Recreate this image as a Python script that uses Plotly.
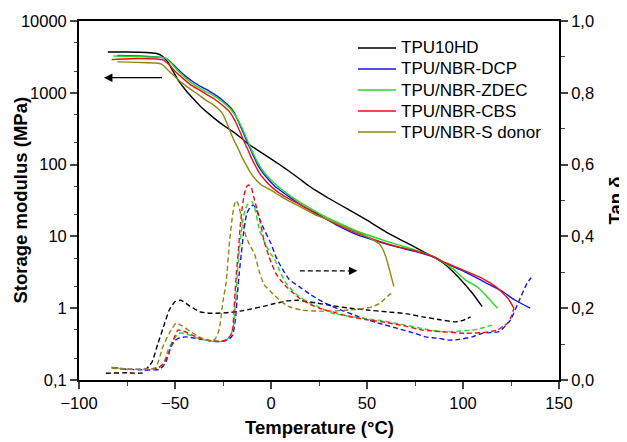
import plotly.graph_objects as go

names = ["TPU10HD", "TPU/NBR-DCP", "TPU/NBR-ZDEC", "TPU/NBR-CBS", "TPU/NBR-S donor"]
colors = ["#000000", "#1414f0", "#22dd22", "#ee1111", "#8a8a10"]

# storage modulus E' (MPa), solid lines, left log axis
t_e_hd = [-85, -75, -65, -60, -57, -54, -51, -48, -44, -40, -36, -32, -28, -24, -20, -16, -12, -8, -4, 0,
          5, 10, 15, 20, 25, 30, 40, 50, 60, 70, 80, 85, 90, 95, 100, 105, 110]
e_hd = [3700, 3700, 3650, 3550, 3300, 2750, 2000, 1450, 1050, 800, 620, 500, 410, 340, 290, 240, 195, 166, 141, 120,
        98, 79, 63, 50, 41, 34, 24, 16.8, 11.5, 8.3, 6.0, 5.1, 4.2, 3.2, 2.3, 1.6, 1.05]

t_e_dcp = [-80, -70, -60, -55, -52, -49, -45, -41, -36, -32, -28, -24, -21, -19, -17, -15, -13, -11, -9, -7,
           -5, -2, 2, 8, 15, 25, 35, 45, 55, 65, 75, 85, 90, 100, 110, 120, 127, 135]
e_dcp = [3300, 3250, 3150, 3050, 2650, 2200, 1750, 1450, 1200, 1050, 900, 740, 620, 520, 400, 300, 225, 170, 130, 100,
         82, 65, 50, 38, 28, 20, 14, 10.5, 8.6, 7.2, 6.2, 5.1, 4.3, 3.3, 2.4, 1.75, 1.3, 1.0]

t_e_zdec = [-82, -70, -60, -55, -52, -49, -45, -41, -36, -32, -28, -24, -21, -19, -17, -15, -13, -11, -9, -7,
            -5, -2, 2, 8, 15, 25, 35, 45, 55, 65, 75, 85, 90, 95, 101, 108, 113, 118]
e_zdec = [3250, 3200, 3150, 3050, 2600, 2100, 1650, 1350, 1120, 980, 850, 700, 590, 500, 410, 320, 240, 180, 138, 108,
          88, 70, 54, 40, 30, 21, 15.5, 11.8, 9.5, 7.8, 6.5, 5.2, 4.3, 3.5, 2.5, 1.93, 1.4, 1.0]

t_e_cbs = [-83, -70, -60, -56, -53, -50, -46, -42, -37, -33, -29, -25, -22, -20, -18, -16, -14, -12, -10, -8,
           -6, -3, 1, 7, 15, 25, 35, 45, 55, 65, 75, 85, 90, 100, 110, 117, 121, 124, 126.5]
e_cbs = [2900, 3000, 2950, 2850, 2450, 2000, 1600, 1300, 1080, 930, 800, 660, 560, 470, 370, 280, 210, 160, 120, 95,
         76, 60, 47, 36, 28, 19.5, 14.5, 11, 8.8, 7.3, 6.3, 5.2, 4.4, 3.4, 2.6, 2.0, 1.6, 1.3, 1.0]

t_e_sd = [-80, -70, -60, -57, -53, -48, -44, -38, -34, -30, -27, -25, -23, -21, -19, -17, -15, -13, -11, -8,
          -5, 0, 6, 15, 23, 30, 40, 48, 53, 56, 58, 60, 62, 64]
e_sd = [2700, 2650, 2600, 2500, 2000, 1500, 1230, 950, 790, 680, 580, 500, 380, 280, 210, 165, 125, 100, 80, 62,
        52, 44, 35, 26, 20, 17, 13, 10.5, 9, 8, 6.8, 5, 3.2, 2.0]

# tan delta, dashed lines, right axis
t_tan_hd = [-86, -75, -67, -62, -59, -56, -53, -50, -47, -42, -37, -32, -28, -22, -16, -10, -4, 2, 8, 14,
            23, 32, 41, 50, 60, 70, 79, 88, 96, 100, 104]
tan_hd = [0.019, 0.02, 0.02, 0.05, 0.1, 0.148, 0.195, 0.218, 0.222, 0.205, 0.19, 0.186, 0.186, 0.188, 0.192, 0.198,
          0.205, 0.213, 0.22, 0.222, 0.215, 0.207, 0.2, 0.195, 0.19, 0.185, 0.176, 0.168, 0.162, 0.166, 0.176]

t_tan_dcp = [-82, -75, -65, -58, -55, -52, -50, -47.5, -44, -40, -36, -32, -28, -25, -22, -20, -18.5, -17.5, -16.5,
             -15.5, -14.5, -13.5, -12.5, -11, -9.5, -8, -6, -3.5, 0, 2.6, 5.2, 9.5, 14.7, 20, 26.8, 35, 45.9, 55, 65,
             75, 80.5, 87.5, 92.7, 98, 104.8, 110, 118.7, 124.7, 129, 133.4, 135.5]
tan_dcp = [0.035, 0.03, 0.028, 0.03, 0.047, 0.093, 0.11, 0.118, 0.12, 0.117, 0.113, 0.11, 0.107, 0.108, 0.113, 0.125,
           0.17, 0.24, 0.3, 0.35, 0.4, 0.44, 0.465, 0.48, 0.487, 0.48, 0.45, 0.418, 0.38, 0.343, 0.316, 0.28, 0.26,
           0.24, 0.218, 0.198, 0.176, 0.16, 0.145, 0.13, 0.12, 0.116, 0.111, 0.113, 0.12, 0.13, 0.135, 0.167, 0.218,
           0.27, 0.285]

t_tan_zdec = [-83, -75, -65, -59, -56, -53.7, -51, -48, -45, -41, -37, -33, -29, -26, -23, -21, -19.5, -18.5, -17.5,
              -16.5, -15.5, -14.5, -13.5, -12, -10, -8.5, -6, -3, 0, 1.7, 4.3, 7.8, 11, 14.7, 20, 25, 32, 40, 50, 58,
              70, 80, 87.5, 95, 104.8, 110, 115]
tan_zdec = [0.033, 0.03, 0.03, 0.033, 0.045, 0.083, 0.11, 0.13, 0.13, 0.122, 0.115, 0.11, 0.107, 0.107, 0.112, 0.125,
            0.15, 0.22, 0.3, 0.36, 0.41, 0.45, 0.475, 0.49, 0.497, 0.48, 0.418, 0.38, 0.35, 0.339, 0.306, 0.27, 0.25,
            0.232, 0.215, 0.203, 0.186, 0.178, 0.17, 0.165, 0.153, 0.142, 0.135, 0.135, 0.139, 0.145, 0.153]

t_tan_cbs = [-83, -75, -65, -59, -56, -53, -51, -48.5, -45, -41, -37, -33, -29, -26, -23, -21, -20, -19, -18, -17,
             -16, -15, -14, -13, -12, -10.5, -9, -7, -6, -3.5, -1, 2.5, 5, 8, 11, 15, 20, 25, 32, 40, 50, 58, 70, 79,
             88, 101, 110, 118, 121, 124, 126.5]
tan_cbs = [0.035, 0.03, 0.03, 0.033, 0.045, 0.08, 0.11, 0.139, 0.135, 0.125, 0.116, 0.111, 0.108, 0.108, 0.113,
           0.125, 0.14, 0.22, 0.3, 0.36, 0.43, 0.48, 0.515, 0.535, 0.543, 0.54, 0.51, 0.47, 0.45, 0.385, 0.343, 0.297,
           0.278, 0.26, 0.245, 0.227, 0.212, 0.2, 0.19, 0.178, 0.168, 0.162, 0.15, 0.139, 0.135, 0.13, 0.132, 0.139,
           0.15, 0.162, 0.2]

t_tan_sd = [-83, -75, -65, -60, -56.3, -53, -49.5, -46, -42, -38, -34, -31, -29, -27, -25, -23.4, -21.7, -20, -19,
            -18, -16.5, -15, -13, -11, -8.7, -6, -3.5, 0.8, 5, 9.5, 16, 23.4, 32, 40.7, 47, 52.8, 57, 61.5, 64]
tan_sd = [0.035, 0.03, 0.03, 0.035, 0.093, 0.13, 0.158, 0.15, 0.135, 0.122, 0.112, 0.107, 0.115, 0.14, 0.22, 0.27,
          0.38, 0.46, 0.49, 0.50, 0.48, 0.44, 0.40, 0.375, 0.353, 0.30, 0.265, 0.241, 0.22, 0.204, 0.195, 0.192,
          0.192, 0.195, 0.198, 0.204, 0.215, 0.237, 0.245]

modulus = [(t_e_hd, e_hd), (t_e_dcp, e_dcp), (t_e_zdec, e_zdec), (t_e_cbs, e_cbs), (t_e_sd, e_sd)]
tand = [(t_tan_hd, tan_hd), (t_tan_dcp, tan_dcp), (t_tan_zdec, tan_zdec), (t_tan_cbs, tan_cbs), (t_tan_sd, tan_sd)]

# the page body has an 8px margin, so the figure is sized to fit inside the window
W, H = 619, 434
L, R, T, B = 71, 68, 13, 62
pw, ph = W - L - R, H - T - B


def px(x):
    return (x - L) / pw


def py(y):
    return 1 - (y - T) / ph


fig = go.Figure()
for name, col, (t, e) in zip(names, colors, modulus):
    fig.add_trace(go.Scatter(x=t, y=e, mode="lines", name=name, showlegend=False,
                             line=dict(color=col, width=1.4, shape="spline", smoothing=0.5)))
for name, col, (t, d) in zip(names, colors, tand):
    fig.add_trace(go.Scatter(x=t, y=d, mode="lines", name=name, showlegend=False, yaxis="y2",
                             line=dict(color=col, width=1.4, dash="5px,3px", shape="spline", smoothing=0.5)))

fam = "Liberation Sans, Arial, sans-serif"
tick_font = dict(family=fam, size=16.5, color="black")
title_font = dict(family=fam, size=18.5, color="black")

# legend box drawn as line samples + labels (tighter row spacing than plotly's legend)
for i, (name, col) in enumerate(zip(names, colors)):
    yy = py(40 + 21 * i)
    fig.add_shape(type="line", xref="paper", yref="paper", x0=px(350), x1=px(388), y0=yy, y1=yy,
                  line=dict(color=col, width=1.6))
    fig.add_annotation(text=name, xref="paper", yref="paper", x=px(391), y=yy, xanchor="left",
                       yanchor="middle", showarrow=False, font=dict(family=fam, size=17, color="black"))

# arrows pointing to the axes
fig.add_annotation(x=-87, y=3.21, ax=-56, ay=3.21, xref="x", yref="y", axref="x", ayref="y",
                   showarrow=True, arrowhead=2, arrowsize=1.3, arrowwidth=1.3, arrowcolor="black", text="")
fig.add_shape(type="line", x0=15, x1=42, y0=0.304, y1=0.304, xref="x", yref="y2",
              line=dict(color="black", width=1.3, dash="5px,3px"))
fig.add_annotation(x=45, y=0.304, ax=41, ay=0.304, xref="x", yref="y2", axref="x", ayref="y2",
                   showarrow=True, arrowhead=2, arrowsize=1.3, arrowwidth=1.3, arrowcolor="black", text="")

# axis titles placed as text so the plot area keeps the reference margins
fig.add_annotation(text="<b>Storage modulus (MPa)</b>", textangle=-90, xref="paper", yref="paper",
                   x=px(12), y=0.5, xanchor="center", yanchor="middle", showarrow=False, font=title_font)
fig.add_annotation(text="<b>Tan δ</b>", textangle=-90, xref="paper", yref="paper",
                   x=px(607), y=0.5, xanchor="center", yanchor="middle", showarrow=False, font=title_font)
fig.add_annotation(text="<b>Temperature (°C)</b>", xref="paper", yref="paper",
                   x=0.5, y=py(419), xanchor="center", yanchor="middle", showarrow=False, font=title_font)

fig.update_layout(
    width=W, height=H,
    margin=dict(l=L, r=R, t=T, b=B),
    paper_bgcolor="white", plot_bgcolor="white",
    font=tick_font,
    showlegend=False,
    xaxis=dict(range=[-100, 150], tickvals=[-100, -50, 0, 50, 100, 150], ticks="outside", ticklen=7,
               tickwidth=1.5, showline=True, linewidth=1.8, linecolor="black", mirror=True, showgrid=False,
               zeroline=False, automargin=False,
               minor=dict(dtick=25, tick0=-100, ticks="outside", ticklen=4, tickwidth=1.3, showgrid=False)),
    yaxis=dict(type="log", range=[-1, 4], tickvals=[0.1, 1, 10, 100, 1000, 10000],
               ticktext=["0,1", "1", "10", "100", "1000", "10000"], ticks="outside", ticklen=7, tickwidth=1.5,
               showline=True, linewidth=1.8, linecolor="black", showgrid=False, zeroline=False, automargin=False,
               minor=dict(ticks="outside", ticklen=3, tickwidth=1, showgrid=False)),
    yaxis2=dict(overlaying="y", side="right", range=[0, 1], tickvals=[0, 0.2, 0.4, 0.6, 0.8, 1.0],
                ticktext=["0,0", "0,2", "0,4", "0,6", "0,8", "1,0"], ticks="outside", ticklen=7, tickwidth=1.5,
                showline=True, linewidth=1.8, linecolor="black", showgrid=False, zeroline=False, automargin=False,
                minor=dict(dtick=0.1, tick0=0, ticks="outside", ticklen=4, tickwidth=1.3, showgrid=False)),
)

fig.write_html("out.html")
